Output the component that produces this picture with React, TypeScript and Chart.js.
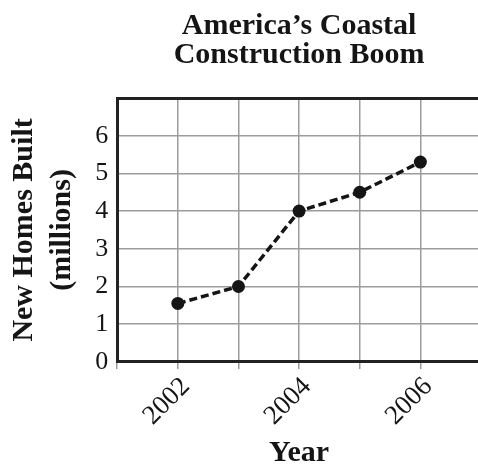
import React, { useEffect, useRef } from 'react';
import { Chart, registerables } from 'chart.js';

Chart.register(...registerables);

const years = [2002, 2003, 2004, 2005, 2006];
const homesBuilt = [1.55, 2.0, 4.0, 4.5, 5.3];
const labeledYears = [2002, 2004, 2006];
const yTickLabels = ['0', '1', '2', '3', '4', '5', '6'];
const titleLines = ['America\u2019s Coastal', 'Construction Boom'];
const yTitleLines = ['New Homes Built', '(millions)'];
const xTitle = 'Year';

const SERIF = '"Liberation Serif", "Times New Roman", serif';
const INK = '#151515';
const GRID = '#9c9c9c';
const CANVAS_W = 500;
const CANVAS_H = 464;

export default function App() {
  const ref = useRef<HTMLCanvasElement>(null);

  useEffect(() => {
    if (!ref.current) return;
    const chart = new Chart(ref.current, {
      type: 'line',
      data: {
        datasets: [
          {
            data: years.map((x, i) => ({ x, y: homesBuilt[i] })),
            borderColor: INK,
            backgroundColor: INK,
            borderWidth: 3.5,
            borderDash: [8, 4],
            pointRadius: 6.5,
            pointBackgroundColor: INK,
            pointBorderWidth: 0,
            tension: 0,
          },
        ],
      },
      options: {
        responsive: false,
        maintainAspectRatio: false,
        animation: false,
        layout: { padding: { left: 0, right: CANVAS_W - 481, top: 0, bottom: 0 } },
        plugins: {
          legend: { display: false },
          tooltip: { enabled: false },
          title: {
            display: true,
            text: titleLines,
            fullSize: false,
            color: INK,
            font: { family: SERIF, size: 30, weight: 'bold', lineHeight: 0.95 },
            padding: { top: 12, bottom: 29 },
          },
        },
        scales: {
          x: {
            type: 'linear',
            min: 2001,
            max: 2007,
            afterFit: (scale: any) => {
              scale.paddingLeft = 0;
              scale.paddingRight = 0;
            },
            ticks: {
              stepSize: 1,
              autoSkip: false,
              minRotation: 45,
              maxRotation: 45,
              padding: 2,
              labelOffset: 8,
              color: INK,
              font: { family: SERIF, size: 27 },
              callback: (v: any) => {
                const n = Math.round(Number(v));
                return labeledYears.includes(n) ? String(n) : '';
              },
            },
            grid: { color: GRID, lineWidth: 1.5, tickLength: 7, tickColor: GRID },
            border: { color: '#222', width: 3 },
            title: {
              display: true,
              text: xTitle,
              color: INK,
              font: { family: SERIF, size: 30, weight: 'bold', lineHeight: 0.7 },
              padding: { top: 9, bottom: 0 },
            },
          },
          y: {
            min: 0,
            max: 7,
            ticks: {
              stepSize: 1,
              padding: 9,
              color: INK,
              font: { family: SERIF, size: 26 },
              callback: (_v: any, i: number) => yTickLabels[i] ?? '',
            },
            grid: {
              drawTicks: false,
              color: (ctx: any) => (ctx.tick && ctx.tick.value === 7 ? '#222' : GRID),
              lineWidth: (ctx: any) => (ctx.tick && ctx.tick.value === 7 ? 3 : 1.5),
            },
            border: { color: '#222', width: 3 },
            title: {
              display: true,
              text: yTitleLines,
              color: INK,
              font: { family: SERIF, size: 30, weight: 'bold', lineHeight: 1.27 },
              padding: { top: 5, bottom: 5 },
            },
          },
        },
      },
    });
    return () => chart.destroy();
  }, []);

  return (
    <div style={{ position: 'absolute', left: 0, top: 0, width: 478, height: 464, overflow: 'hidden', background: '#fff' }}>
      <canvas ref={ref} width={CANVAS_W} height={CANVAS_H} style={{ display: 'block', width: CANVAS_W, height: CANVAS_H }} />
    </div>
  );
}
